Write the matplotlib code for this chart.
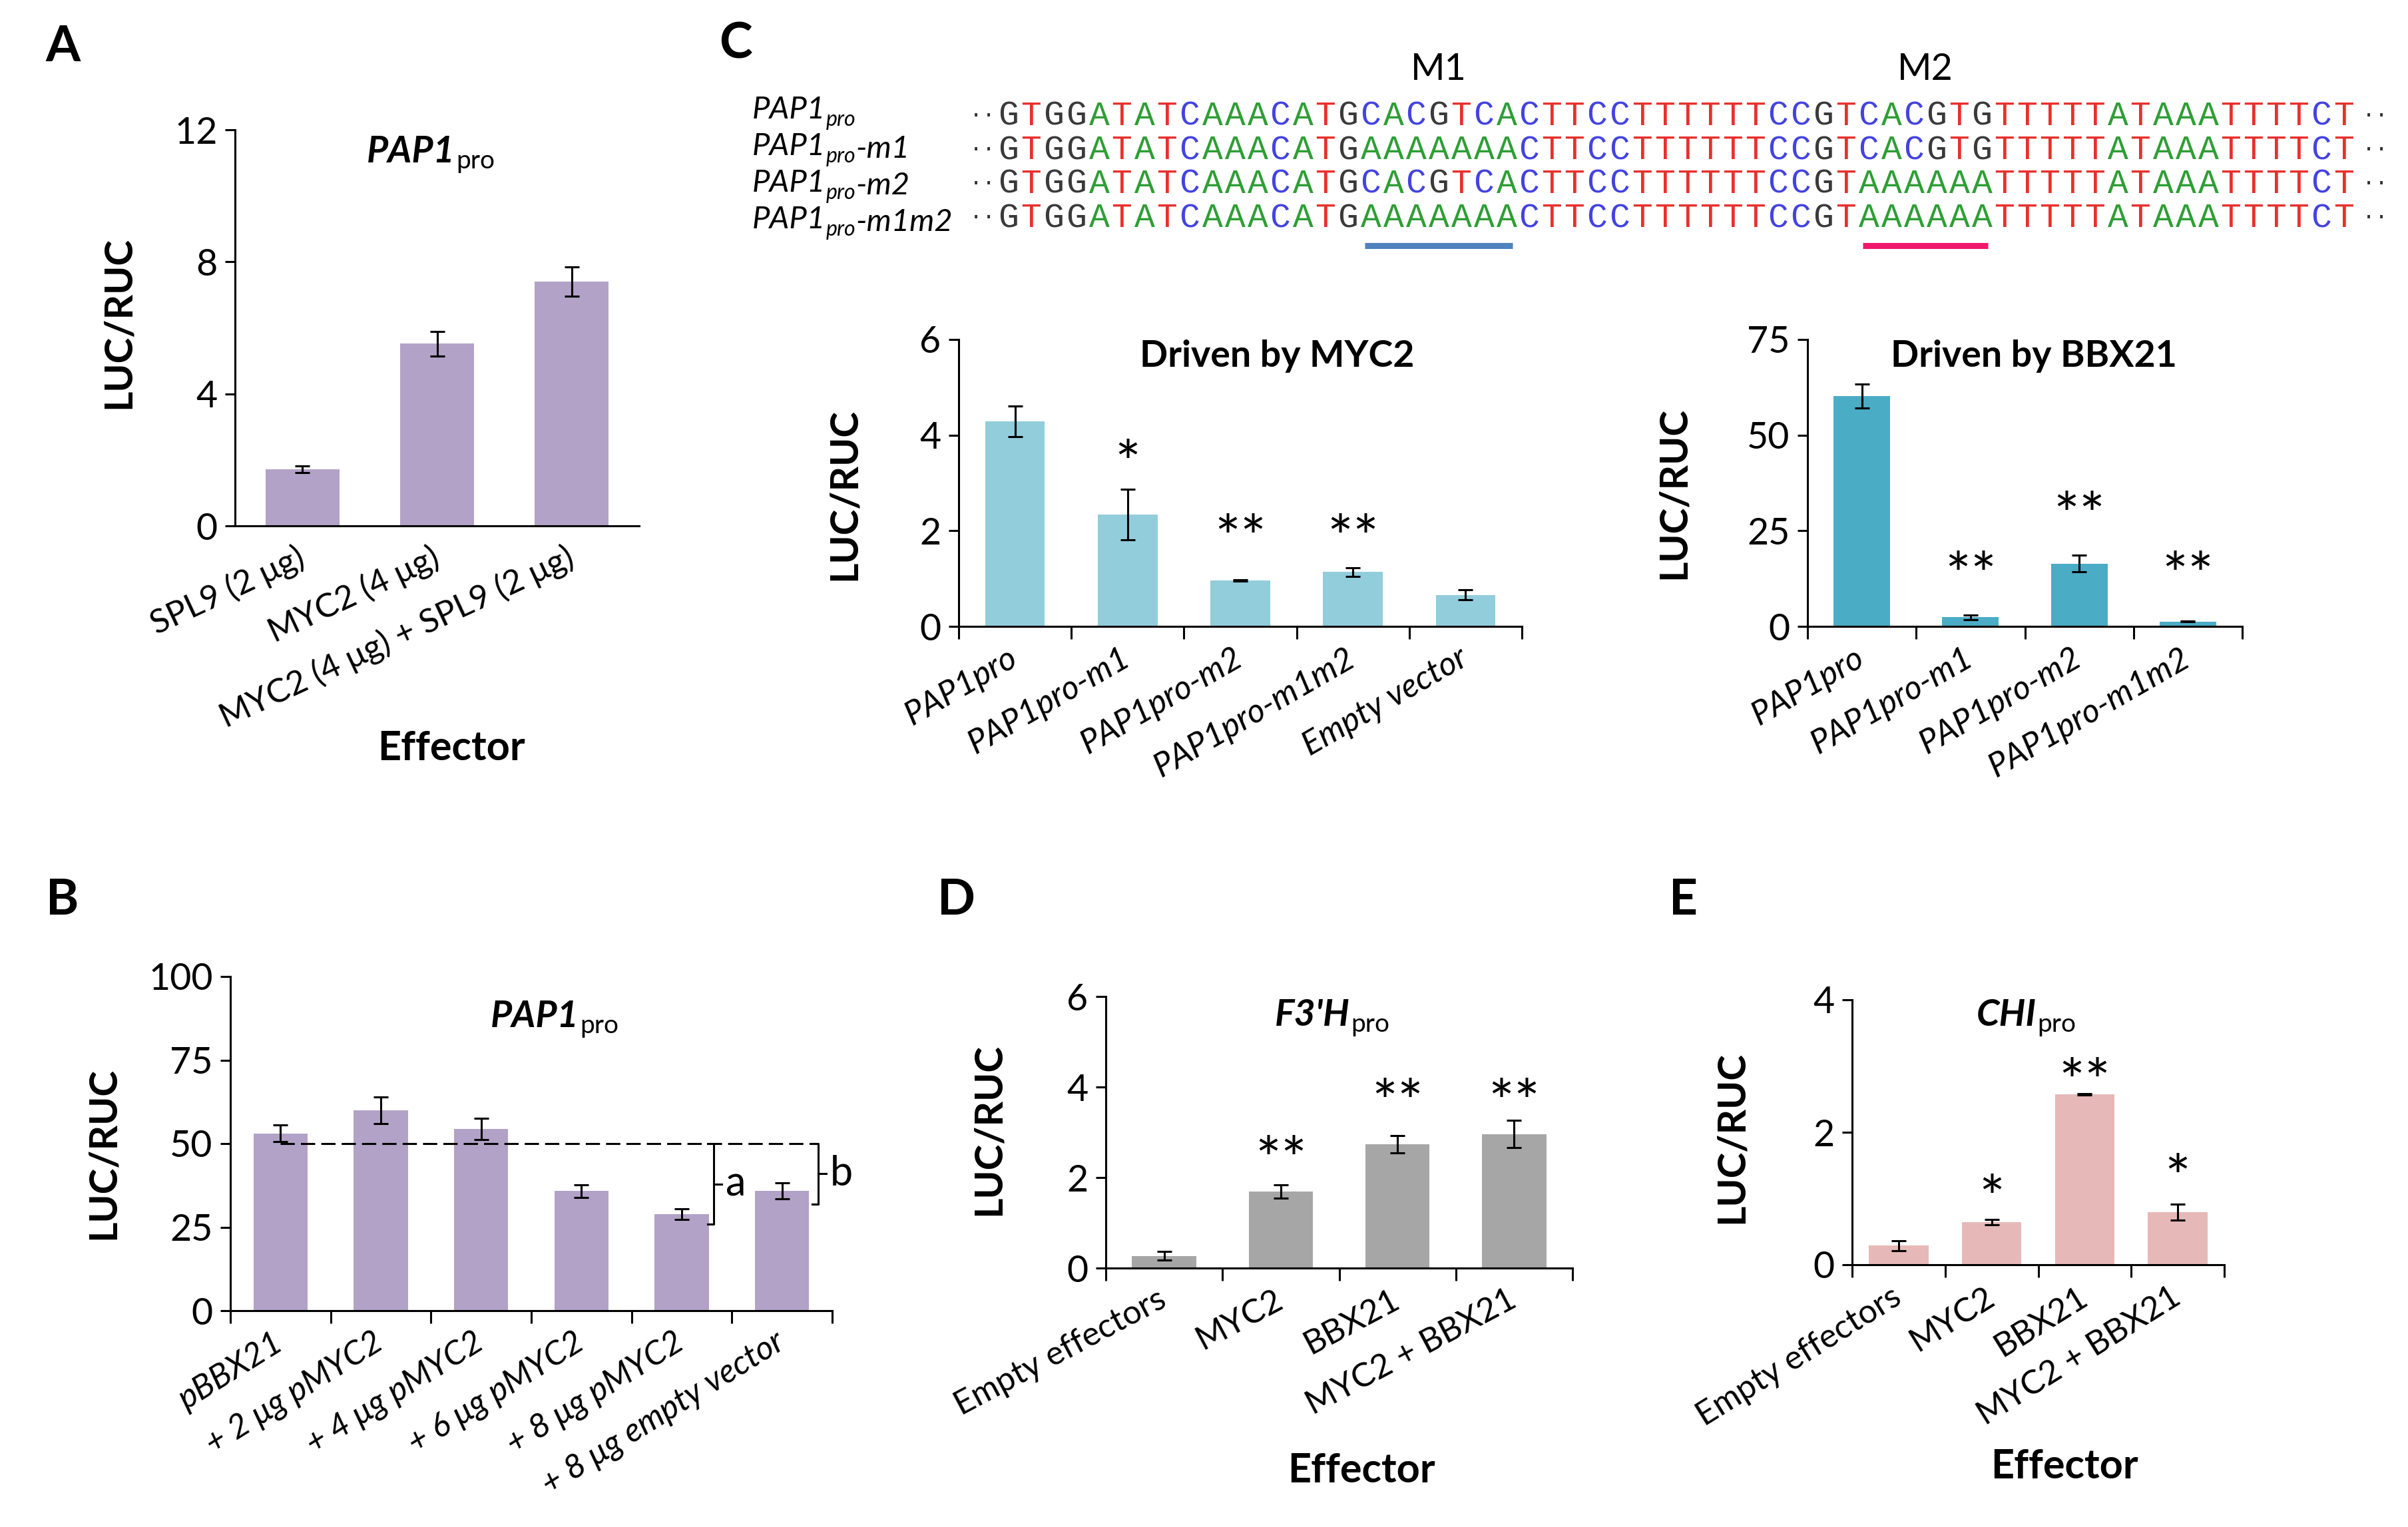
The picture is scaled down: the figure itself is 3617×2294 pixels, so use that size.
import numpy as np
import matplotlib
matplotlib.use("Agg")
import matplotlib.pyplot as plt

plt.rcParams['font.family'] = ['Lato', 'DejaVu Sans']

W, H = 3617, 2294

# ---- data ----
a_cats = ["SPL9 (2 \u03bcg)", "MYC2 (4 \u03bcg)", "MYC2 (4 \u03bcg) + SPL9 (2 \u03bcg)"]
a_vals = [1.71, 5.52, 7.40]
a_errs = [0.10, 0.37, 0.44]

b_cats = ["pBBX21", "+ 2 \u03bcg pMYC2", "+ 4 \u03bcg pMYC2", "+ 6 \u03bcg pMYC2",
          "+ 8 \u03bcg pMYC2", "+ 8 \u03bcg empty vector"]
b_vals = [53.0, 60.0, 54.3, 35.8, 28.9, 35.8]
b_errs = [2.5, 4.0, 3.2, 1.9, 1.6, 2.4]
b_ref = 50.0

c1_cats = ["PAP1pro", "PAP1pro-m1", "PAP1pro-m2", "PAP1pro-m1m2", "Empty vector"]
c1_vals = [4.29, 2.34, 0.96, 1.14, 0.66]
c1_errs = [0.32, 0.53, 0.01, 0.09, 0.10]
c1_stars = ["", "*", "**", "**", ""]
c1_star_y = [0, 3.6, 2.05, 2.05, 0]

c2_cats = ["PAP1pro", "PAP1pro-m1", "PAP1pro-m2", "PAP1pro-m1m2"]
c2_vals = [60.2, 2.4, 16.4, 1.27]
c2_errs = [3.1, 0.6, 2.2, 0.1]
c2_stars = ["", "**", "**", "**"]
c2_star_y = [0, 15.9, 31.4, 15.9]

d_cats = ["Empty effectors", "MYC2", "BBX21", "MYC2 + BBX21"]
d_vals = [0.27, 1.69, 2.73, 2.96]
d_errs = [0.10, 0.15, 0.19, 0.30]
d_stars = ["", "**", "**", "**"]
d_star_y = [0, 2.6, 3.87, 3.87]

e_cats = ["Empty effectors", "MYC2", "BBX21", "MYC2 + BBX21"]
e_vals = [0.29, 0.64, 2.57, 0.79]
e_errs = [0.075, 0.04, 0.01, 0.12]
e_stars = ["", "*", "**", "*"]
e_star_y = [0, 1.15, 2.9, 1.46]

seq_names = [("PAP1", "pro", ""), ("PAP1", "pro", "-m1"),
             ("PAP1", "pro", "-m2"), ("PAP1", "pro", "-m1m2")]
seq_rows = ["GTGGATATCAAACATGCACGTCACTTCCTTTTTTCCGTCACGTGTTTTTATAAATTTTCT",
            "GTGGATATCAAACATGAAAAAAACTTCCTTTTTTCCGTCACGTGTTTTTATAAATTTTCT",
            "GTGGATATCAAACATGCACGTCACTTCCTTTTTTCCGTAAAAAATTTTTATAAATTTTCT",
            "GTGGATATCAAACATGAAAAAAACTTCCTTTTTTCCGTAAAAAATTTTTATAAATTTTCT"]
motifs = [("M1", 16, 23, "#4f81bd"), ("M2", 38, 44, "#f0186c")]
base_colors = {"A": "#2e9e35", "T": "#e8302c", "C": "#4343e0", "G": "#3a3a3a"}

fig = plt.figure(figsize=(W / 100, H / 100), dpi=100)

TICK = 40
CAT = 36
STAR = 66


def bar_panel(box, cats, vals, errs, color, ymax, ystep, rot, bw=0.55,
              italic=False, xticks=True, stars=None, star_y=None):
    l, t, r, b = box
    ax = fig.add_axes([l / W, 1 - b / H, (r - l) / W, (b - t) / H])
    x = np.arange(len(cats))
    ax.bar(x, vals, width=bw, color=color, zorder=2)
    ax.errorbar(x, vals, yerr=errs, fmt='none', ecolor='black', elinewidth=2.2,
                capsize=8, capthick=2.2, zorder=3)
    ax.set_xlim(-0.5, len(cats) - 0.5)
    ax.set_ylim(0, ymax)
    ax.set_yticks(np.arange(0, ymax + ystep / 2, ystep))
    for s in ['top', 'right']:
        ax.spines[s].set_visible(False)
    for s in ['left', 'bottom']:
        ax.spines[s].set_linewidth(2.2)
    ax.tick_params(axis='y', direction='out', length=11, width=2.2,
                   labelsize=TICK, pad=8)
    ax.set_xticks(x)
    ax.set_xticklabels(cats, rotation=rot, ha='right', va='center',
                       rotation_mode='anchor', fontsize=CAT,
                       style='italic' if italic else 'normal')
    ax.tick_params(axis='x', which='major', length=0, pad=32)
    if xticks:
        ax.set_xticks(np.arange(len(cats) + 1) - 0.5, minor=True)
        ax.tick_params(axis='x', which='minor', length=14, width=2.2,
                       direction='out')
    ax.patch.set_alpha(0)
    if stars:
        for i, (s, y) in enumerate(zip(stars, star_y)):
            if s:
                # asterisks sit high in the font, nudge them down
                ax.annotate(s, xy=(i, y), xytext=(0, -14), textcoords='offset points',
                            ha='center', va='center', fontsize=STAR)
    return ax


# A
bar_panel((353, 195, 960, 790), a_cats, a_vals, a_errs, "#b3a2c7", 12, 4, 25,
          bw=0.55, xticks=False)

# C
bar_panel((1440, 510, 2286, 941), c1_cats, c1_vals, c1_errs, "#92cddc", 6, 2, 30,
          bw=0.53, italic=True, stars=c1_stars, star_y=c1_star_y)
bar_panel((2715, 510, 3368, 941), c2_cats, c2_vals, c2_errs, "#4bacc6", 75, 25, 30,
          bw=0.52, italic=True, stars=c2_stars, star_y=c2_star_y)

# B
axb = bar_panel((346, 1467, 1250, 1969), b_cats, b_vals, b_errs, "#b3a2c7", 100, 25, 32,
                bw=0.54, italic=True)
bx_a = 4 + 0.27 + 0.05
bx_b = 5 + 0.27 + 0.09
axb.plot([0, bx_b], [b_ref, b_ref], color='black', lw=2.2, ls=(0, (7, 3)), zorder=4)
for bx, i, lab in [(bx_a, 4, "a"), (bx_b, 5, "b")]:
    lo = b_vals[i] - b_errs[i] - 1.5
    mid = (b_ref + lo) / 2
    axb.plot([bx - 0.06, bx, bx, bx - 0.06], [lo, lo, b_ref, b_ref], color='black', lw=2.2, zorder=4)
    axb.plot([bx, bx + 0.08], [mid, mid], color='black', lw=2.2, zorder=4, clip_on=False)
    axb.text(bx + 0.12, mid, lab, ha='left', va='center', fontsize=44, clip_on=False)

# D, E
bar_panel((1661, 1497, 2362, 1905), d_cats, d_vals, d_errs, "#a6a6a6", 6, 2, 28,
          bw=0.55, stars=d_stars, star_y=d_star_y)
bar_panel((2782, 1502, 3341, 1900), e_cats, e_vals, e_errs, "#e6b9b8", 4, 2, 32,
          bw=0.64, stars=e_stars, star_y=e_star_y)

# overlay in pixel coordinates for free text
ov = fig.add_axes([0, 0, 1, 1], zorder=10)
ov.set_xlim(0, W)
ov.set_ylim(H, 0)
ov.axis('off')


def sub_label(x, y, main, sub, size=40, subsize=28):
    t = ov.text(x, y, main, fontsize=size, fontweight='bold', style='italic',
                ha='left', va='baseline')
    ov.annotate(sub, xy=(1, 0), xycoords=t, xytext=(1, 0), textcoords='offset points',
                fontsize=subsize, ha='left', va='baseline')


def row_label(x, y, main, sub, tail, size=34):
    t = ov.text(x, y, main, fontsize=size, style='italic', ha='left', va='baseline')
    s = ov.annotate(sub, xy=(1, 0), xycoords=t, xytext=(0, -2), textcoords='offset points',
                    fontsize=size * 0.68, style='italic', ha='left', va='baseline')
    if tail:
        ov.annotate(tail, xy=(1, 0), xycoords=s, xytext=(0, 9), textcoords='offset points',
                    fontsize=size, style='italic', ha='left', va='baseline')


# panel letters
for lab, (px, py) in [("A", (94, 70)), ("B", (94, 1352)), ("C", (1105, 66)),
                      ("D", (1437, 1352)), ("E", (2529, 1352))]:
    ov.text(px, py, lab, fontsize=54, fontweight='bold', ha='center', va='center')

# y labels
for (px, py) in [(178, 484), (1268, 742), (2514, 740), (155, 1733), (1485, 1697), (2601, 1708)]:
    ov.text(px, py, "LUC/RUC", fontsize=42, fontweight='bold', rotation=90,
            ha='center', va='center')

# effector labels
for (px, py) in [(678, 1124), (2045, 2209), (3101, 2203)]:
    ov.text(px, py, "Effector", fontsize=44, fontweight='bold', ha='center', va='center')

# titles
sub_label(551, 244, "PAP1", "pro")
sub_label(737, 1543, "PAP1", "pro")
sub_label(1915, 1541, "F3'H", "pro")
sub_label(2969, 1541, "CHI", "pro")
ov.text(1918, 535, "Driven by MYC2", fontsize=40, fontweight='bold', ha='center', va='center')
ov.text(3055, 535, "Driven by BBX21", fontsize=40, fontweight='bold', ha='center', va='center')

# sequence alignment
SEQ_X0 = 1498
CHAR_W = 34
seq_base = [188, 239, 290, 341]
lab_base = [178, 233, 288, 343]
for k, (row, name) in enumerate(zip(seq_rows, seq_names)):
    row_label(1130, lab_base[k], *name)
    yb = seq_base[k]
    ov.text(SEQ_X0 - 22, yb - 6, "\u00b7\u00b7", fontsize=24, family='Liberation Mono',
            ha='center', va='baseline', color='#333333')
    ov.text(SEQ_X0 + len(row) * CHAR_W + 30, yb - 6, "\u00b7\u00b7", fontsize=24,
            family='Liberation Mono', ha='center', va='baseline', color='#333333')
    for i, ch in enumerate(row):
        ov.text(SEQ_X0 + (i + 0.5) * CHAR_W, yb, ch, fontsize=37, family='Liberation Mono',
                color=base_colors[ch], ha='center', va='baseline')

for name, i0, i1, col in motifs:
    x0 = SEQ_X0 + i0 * CHAR_W + 8
    x1 = SEQ_X0 + i1 * CHAR_W - 8
    ov.plot([x0, x1], [369, 369], color=col, lw=6.5, solid_capstyle='butt')
    ov.text((x0 + x1) / 2, 120, name, fontsize=40, ha='center', va='baseline')

fig.savefig("out.png", dpi=100)
